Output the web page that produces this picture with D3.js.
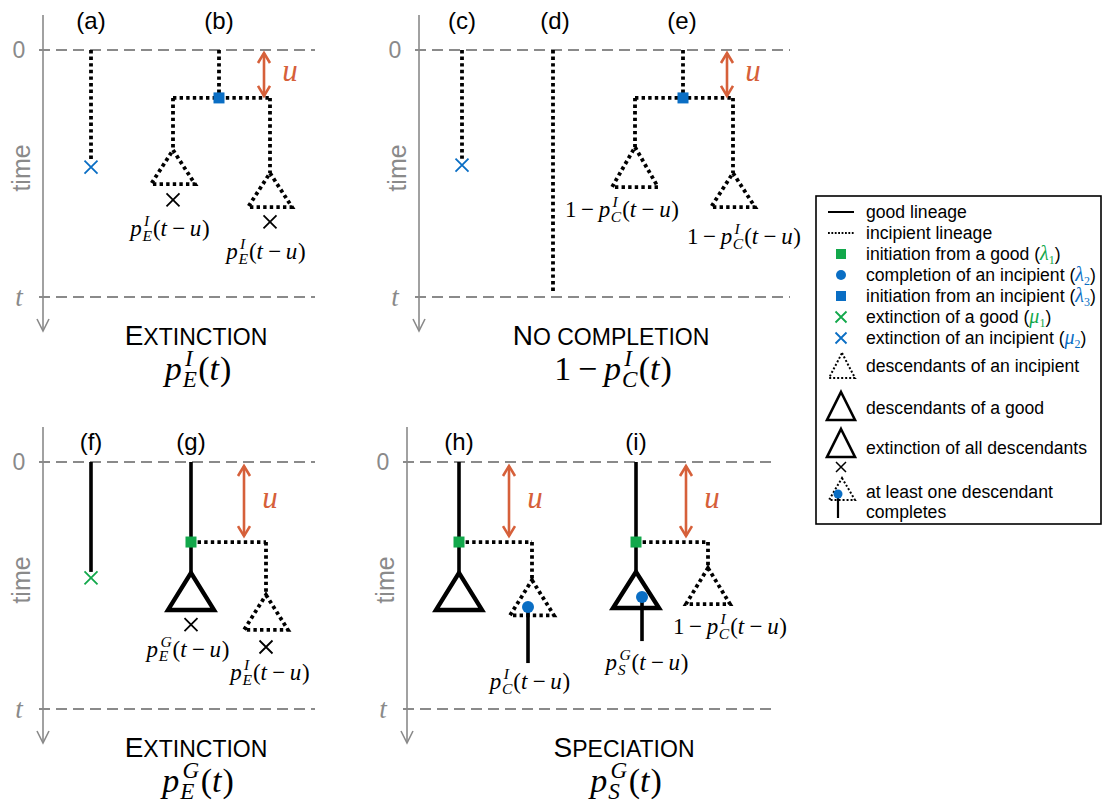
<!DOCTYPE html>
<html><head><meta charset="utf-8">
<script src="https://cdn.jsdelivr.net/npm/d3@7"></script>
<style>body{margin:0;background:#fff}</style>
</head><body>
<script>
// ---------------- DATA ----------------
// time is expressed as a fraction of t (0 = top dashed line, 1 = bottom dashed line)
// x is the horizontal slot of a lineage, measured from the panel's time axis
const panelIds = ['A', 'C', 'F', 'H'];

const caseLabels = [
  ['A', '(a)', 48], ['A', '(b)', 176],
  ['C', '(c)', 43], ['C', '(d)', 136], ['C', '(e)', 263],
  ['F', '(f)', 48], ['F', '(g)', 148],
  ['H', '(h)', 52], ['H', '(i)', 229]
];

// [panel, lineage type, x1, t1, x2, t2]
const segments = [
  ['A', 'inc', 48, 0, 48, 0.45],
  ['A', 'inc', 176, 0, 176, 0.194],
  ['A', 'inc', 130, 0.194, 227, 0.194],
  ['A', 'inc', 130, 0.194, 130, 0.405],
  ['A', 'inc', 227, 0.194, 227, 0.498],
  ['C', 'inc', 43, 0, 43, 0.44],
  ['C', 'inc', 134, 0, 134, 0.984],
  ['C', 'inc', 264, 0, 264, 0.194],
  ['C', 'inc', 216, 0.194, 314, 0.194],
  ['C', 'inc', 216, 0.194, 216, 0.393],
  ['C', 'inc', 314, 0.194, 314, 0.498],
  ['F', 'good', 48, 0, 48, 0.445],
  ['F', 'good', 148, 0, 148, 0.449],
  ['F', 'inc', 148, 0.324, 223, 0.324],
  ['F', 'inc', 223, 0.324, 223, 0.538],
  ['H', 'good', 52, 0, 52, 0.449],
  ['H', 'inc', 52, 0.324, 125, 0.324],
  ['H', 'inc', 125, 0.324, 125, 0.478],
  ['H', 'good', 121, 0.587, 121, 0.814],
  ['H', 'good', 229, 0, 229, 0.445],
  ['H', 'inc', 229, 0.324, 301, 0.324],
  ['H', 'inc', 301, 0.324, 301, 0.429],
  ['H', 'good', 235, 0.547, 235, 0.725]
];

// descendant triangles: [panel, type, x apex, t apex, t base, spread]
const triangles = [
  ['A', 'inc', 130, 0.405, 0.543, 22],
  ['A', 'inc', 227, 0.498, 0.636, 22],
  ['C', 'inc', 216, 0.393, 0.555, 23],
  ['C', 'inc', 314, 0.498, 0.636, 22],
  ['F', 'good', 148, 0.449, 0.599, 23],
  ['F', 'inc', 223, 0.538, 0.680, 22],
  ['H', 'good', 52, 0.449, 0.599, 23],
  ['H', 'inc', 125, 0.478, 0.621, 22],
  ['H', 'good', 229, 0.445, 0.591, 23],
  ['H', 'inc', 301, 0.429, 0.575, 22]
];

// events: [panel, kind, x, t]
const events = [
  ['A', 'extI', 48, 0.474],
  ['A', 'initI', 176, 0.194],
  ['A', 'extAll', 130, 0.607],
  ['A', 'extAll', 227, 0.696],
  ['C', 'extI', 43, 0.466],
  ['C', 'initI', 264, 0.194],
  ['F', 'extG', 48, 0.469],
  ['F', 'initG', 148, 0.324],
  ['F', 'extAll', 148, 0.658],
  ['F', 'extAll', 223, 0.749],
  ['H', 'initG', 52, 0.324],
  ['H', 'compl', 121, 0.587],
  ['H', 'initG', 229, 0.324],
  ['H', 'compl', 235, 0.547]
];

// u intervals: [panel, x, t start, t end]
const uArrows = [
  ['A', 221, 0.008, 0.190],
  ['C', 308, 0.008, 0.190],
  ['F', 201, 0.012, 0.304],
  ['H', 102, 0.012, 0.304],
  ['H', 279, 0.012, 0.304]
];

// probability labels under the trees: [panel, x, t, expression]
const treeLabels = [
  ['A', 127, 0.753, 'p_E^I(t-u)'],
  ['A', 223, 0.846, 'p_E^I(t-u)'],
  ['C', 203, 0.676, '1-p_C^I(t-u)'],
  ['C', 325, 0.785, '1-p_C^I(t-u)'],
  ['F', 145, 0.789, 'p_E^G(t-u)'],
  ['F', 227, 0.883, 'p_E^I(t-u)'],
  ['H', 123, 0.919, 'p_C^I(t-u)'],
  ['H', 240, 0.842, 'p_S^G(t-u)'],
  ['H', 323, 0.696, '1-p_C^I(t-u)']
];

// panel titles: [panel, word, formula, x]
const titles = [
  ['A', 'Extinction', 'p_E^I(t)', 153],
  ['C', 'No completion', '1-p_C^I(t)', 192],
  ['F', 'Extinction', 'p_E^G(t)', 153],
  ['H', 'Speciation', 'p_S^G(t)', 217]
];

const axisTicks = ['0', 't'];
const axisTitle = 'time';

const legendItems = [
  ['good', 'good lineage', null, null],
  ['inc', 'incipient lineage', null, null],
  ['initG', 'initiation from a good ', 'λ', '1'],
  ['compl', 'completion of an incipient ', 'λ', '2'],
  ['initI', 'initiation from an incipient ', 'λ', '3'],
  ['extG', 'extinction of a good ', 'μ', '1'],
  ['extI', 'extinction of an incipient ', 'μ', '2'],
  ['triInc', 'descendants of an incipient', null, null],
  ['triGood', 'descendants of a good', null, null],
  ['triExt', 'extinction of all descendants', null, null],
  ['triCompl', 'at least one descendant|completes', null, null]
];

// ---------------- LAYOUT & STYLE ----------------
const W = 1103, H = 808;
const layout = {
  A: {ox: 43, oy: 50, w: 276, capY: -21},
  C: {ox: 419, oy: 50, w: 375, capY: -21},
  F: {ox: 43, oy: 462, w: 276, capY: -12},
  H: {ox: 407, oy: 462, w: 374, capY: -12}
};
const T_LEN = 247;
const GREY = '#8a8a8a', GREEN = '#12a84b', BLUE = '#0a6ec4', ORANGE = '#d6603a';
const kindColor = {initG: GREEN, extG: GREEN, initI: BLUE, compl: BLUE, extI: BLUE, extAll: '#000'};
const SANS = "'Liberation Sans', Arial, Helvetica, sans-serif";
const SERIF = "'Liberation Serif', 'Times New Roman', serif";
const DOT = '3.4,3.2';

const svg = d3.select('body').append('svg').attr('width', W).attr('height', H)
  .style('font-family', SANS);

// ---------- helpers ----------
function parseTex(s) {
  const toks = []; let i = 0;
  while (i < s.length) {
    const c = s[i];
    if (c === '_' || c === '^') {
      let sub = null, sup = null;
      while (i < s.length && (s[i] === '_' || s[i] === '^')) {
        if (s[i] === '_') sub = s[i + 1]; else sup = s[i + 1];
        i += 2;
      }
      toks.push({script: true, sub, sup});
      continue;
    }
    if (c === '-') toks.push({op: '\u2212'});
    else toks.push({ch: c, it: /[a-zA-Z]/.test(c)});
    i++;
  }
  return toks;
}
function renderMath(parent, s, cx, baseline, size, color) {
  const grp = parent.append('g').attr('fill', color || '#000');
  let x = 0;
  const put = (txt, xx, yy, fs, it) => {
    const t = grp.append('text').attr('x', xx).attr('y', yy).attr('font-size', fs)
      .style('font-family', SERIF)
      .style('font-style', it ? 'italic' : 'normal').text(txt);
    return t.node().getComputedTextLength();
  };
  for (const tok of parseTex(s)) {
    if (tok.op) { x += size * 0.2; x += put(tok.op, x, 0, size, false); x += size * 0.2; }
    else if (tok.script) {
      const fs = size * 0.68;
      let w1 = 0, w2 = 0;
      if (tok.sup) w1 = put(tok.sup, x + size * 0.07, -size * 0.42, fs, true) + size * 0.07;
      if (tok.sub) w2 = put(tok.sub, x, size * 0.2, fs, true);
      x += Math.max(w1, w2) + size * 0.04;
    } else {
      x += put(tok.ch, x, 0, size, tok.it);
      if (tok.it) x += size * 0.03;
    }
  }
  grp.attr('transform', `translate(${cx - x / 2},${baseline})`);
  return grp;
}
function smallCaps(parent, word, cx, baseline, big, small) {
  const t = parent.append('text').attr('x', cx).attr('y', baseline)
    .attr('text-anchor', 'middle').attr('fill', '#000');
  for (const ch of word) {
    const up = ch === ch.toUpperCase() && ch !== ' ';
    t.append('tspan').attr('font-size', up ? big : small).text(ch.toUpperCase());
  }
}
function cross(parent, x, y, r, color, sw) {
  parent.append('path').attr('d', `M${x - r},${y - r}L${x + r},${y + r}M${x - r},${y + r}L${x + r},${y - r}`)
    .attr('stroke', color).attr('stroke-width', sw).attr('fill', 'none');
}
function marker(parent, kind, x, y, s) {
  if (kind === 'initG' || kind === 'initI') {
    parent.append('rect').attr('x', x - s / 2).attr('y', y - s / 2).attr('width', s).attr('height', s)
      .attr('fill', kindColor[kind]);
  } else if (kind === 'compl') {
    parent.append('circle').attr('cx', x).attr('cy', y).attr('r', s / 2).attr('fill', BLUE);
  } else {
    cross(parent, x, y, s * 0.5, kindColor[kind], s > 10 ? 1.8 : 1.5);
  }
}
function triangle(parent, type, xa, ya, yb, half, sw, dash) {
  parent.append('path')
    .attr('d', d3.line()([[xa, ya], [xa + half, yb], [xa - half, yb], [xa, ya]]) + 'Z')
    .attr('fill', 'none').attr('stroke', '#000').attr('stroke-width', sw)
    .attr('stroke-dasharray', type === 'inc' ? dash : null)
    .attr('stroke-linejoin', 'miter');
}

// ---------------- PANELS ----------------
panelIds.forEach(pid => {
  const L = layout[pid];
  const x = d3.scaleLinear().domain([0, 100]).range([L.ox, L.ox + 100]);
  const y = d3.scaleLinear().domain([0, 1]).range([L.oy, L.oy + T_LEN]);
  const g = svg.append('g');

  [0, 1].forEach(v => {
    g.append('line').attr('x1', L.ox - 4).attr('x2', L.ox - 4 + L.w)
      .attr('y1', y(v)).attr('y2', y(v))
      .attr('stroke', GREY).attr('stroke-width', 2).attr('stroke-dasharray', '11,6');
  });
  const yEnd = y(0) + 281;
  g.append('line').attr('x1', L.ox).attr('x2', L.ox).attr('y1', y(0) - 35).attr('y2', yEnd)
    .attr('stroke', GREY).attr('stroke-width', 1.6);
  g.append('path').attr('d', `M${L.ox - 6},${yEnd - 12}L${L.ox},${yEnd}L${L.ox + 6},${yEnd - 12}`)
    .attr('fill', 'none').attr('stroke', GREY).attr('stroke-width', 1.6);
  g.append('text').attr('x', L.ox - 24).attr('y', y(0) + 8).attr('text-anchor', 'middle')
    .attr('font-size', 23).attr('fill', GREY).text(axisTicks[0]);
  g.append('text').attr('x', L.ox - 24).attr('y', y(1) + 9).attr('text-anchor', 'middle')
    .attr('font-size', 27).attr('fill', GREY).style('font-family', SERIF).style('font-style', 'italic')
    .text(axisTicks[1]);
  g.append('text').attr('transform', `translate(${L.ox - 13},${y(0) + 118}) rotate(-90)`)
    .attr('text-anchor', 'middle').attr('font-size', 25).attr('fill', GREY).text(axisTitle);

  caseLabels.filter(d => d[0] === pid).forEach(d => {
    g.append('text').attr('x', x(d[2])).attr('y', y(0) + L.capY).attr('text-anchor', 'middle')
      .attr('font-size', 24).attr('fill', '#000').text(d[1]);
  });

  segments.filter(d => d[0] === pid).forEach(d => {
    g.append('line').attr('x1', x(d[2])).attr('y1', y(d[3])).attr('x2', x(d[4])).attr('y2', y(d[5]))
      .attr('stroke', '#000').attr('stroke-width', d[1] === 'good' ? 3.6 : 3.8)
      .attr('stroke-dasharray', d[1] === 'inc' ? DOT : null);
  });

  triangles.filter(d => d[0] === pid).forEach(d => {
    triangle(g, d[1], x(d[2]), y(d[3]), y(d[4]), d[5], d[1] === 'good' ? 4.4 : 3.8, DOT);
  });

  uArrows.filter(d => d[0] === pid).forEach(d => {
    const ax = x(d[1]), y1 = y(d[2]), y2 = y(d[3]);
    g.append('line').attr('x1', ax).attr('x2', ax).attr('y1', y1 + 1).attr('y2', y2 - 1)
      .attr('stroke', ORANGE).attr('stroke-width', 2.6);
    g.append('path').attr('d', `M${ax - 6},${y1 + 11}L${ax},${y1 + 1}L${ax + 6},${y1 + 11}M${ax - 6},${y2 - 11}L${ax},${y2 - 1}L${ax + 6},${y2 - 11}`)
      .attr('stroke', ORANGE).attr('stroke-width', 2.6).attr('fill', 'none');
    g.append('text').attr('x', ax + 26).attr('y', (y1 + y2) / 2 + 7).attr('text-anchor', 'middle')
      .attr('font-size', 31).attr('fill', ORANGE).style('font-family', SERIF).style('font-style', 'italic')
      .text('u');
  });

  events.filter(d => d[0] === pid).forEach(d => {
    marker(g, d[1], x(d[2]), y(d[3]), d[1] === 'compl' ? 12 : (d[1].startsWith('init') ? 11 : 13));
  });

  treeLabels.filter(d => d[0] === pid).forEach(d => {
    renderMath(g, d[3], x(d[1]), y(d[2]), 23, '#000');
  });

  titles.filter(d => d[0] === pid).forEach(d => {
    smallCaps(g, d[1], x(d[3]), y(0) + 295, 28, 23);
    renderMath(g, d[2], x(d[3]) + 2, y(0) + 330, 34, '#000');
  });
});

// ---------------- LEGEND ----------------
const lg = svg.append('g');
lg.append('rect').attr('x', 816).attr('y', 196).attr('width', 285).attr('height', 328)
  .attr('fill', '#fff').attr('stroke', '#000').attr('stroke-width', 1.6);
const legendRowY = [212, 233, 254, 275, 296, 317, 338, 366, 408, 448, 492];
const MX = 841, TX = 866;
legendItems.forEach((d, i) => {
  const cy = legendRowY[i];
  const sym = d[0];
  if (sym === 'good') {
    lg.append('line').attr('x1', 828).attr('x2', 854).attr('y1', cy).attr('y2', cy)
      .attr('stroke', '#000').attr('stroke-width', 2);
  } else if (sym === 'inc') {
    lg.append('line').attr('x1', 828).attr('x2', 854).attr('y1', cy).attr('y2', cy)
      .attr('stroke', '#000').attr('stroke-width', 1.8).attr('stroke-dasharray', '1.8,1.6');
  } else if (sym === 'triInc') {
    triangle(lg, 'inc', 842, cy - 13, cy + 12, 13, 2, '2,2');
  } else if (sym === 'triGood') {
    triangle(lg, 'good', 841, cy - 16, cy + 12, 14, 2.6, null);
  } else if (sym === 'triExt') {
    triangle(lg, 'good', 841, cy - 19, cy + 9, 14, 2.6, null);
    cross(lg, 841, cy + 19, 5, '#000', 1.5);
  } else if (sym === 'triCompl') {
    triangle(lg, 'inc', 842, cy - 14, cy + 8, 13, 2, '2,2');
    lg.append('line').attr('x1', 838).attr('x2', 838).attr('y1', cy + 2).attr('y2', cy + 26)
      .attr('stroke', '#000').attr('stroke-width', 2.2);
    lg.append('circle').attr('cx', 838).attr('cy', cy + 2).attr('r', 4.5).attr('fill', BLUE);
  } else {
    marker(lg, sym, MX, cy, sym === 'compl' ? 10 : (sym.startsWith('init') ? 10 : 11));
  }
  const lines = d[1].split('|');
  lines.forEach((line, k) => {
    const t = lg.append('text').attr('x', TX).attr('y', cy + 6 + k * 20).attr('font-size', 17.6)
      .attr('fill', '#000').text(line);
    if (d[2] && k === lines.length - 1) {
      t.append('tspan').text('(');
      t.append('tspan').style('font-family', SERIF).style('font-style', 'italic')
        .attr('font-size', 20).attr('fill', kindColor[sym]).text(d[2]);
      t.append('tspan').style('font-family', SERIF).attr('font-size', 12).attr('dy', 4)
        .attr('fill', kindColor[sym]).text(d[3]);
      t.append('tspan').attr('dy', -4).text(')');
    }
  });
});
</script>
</body></html>
